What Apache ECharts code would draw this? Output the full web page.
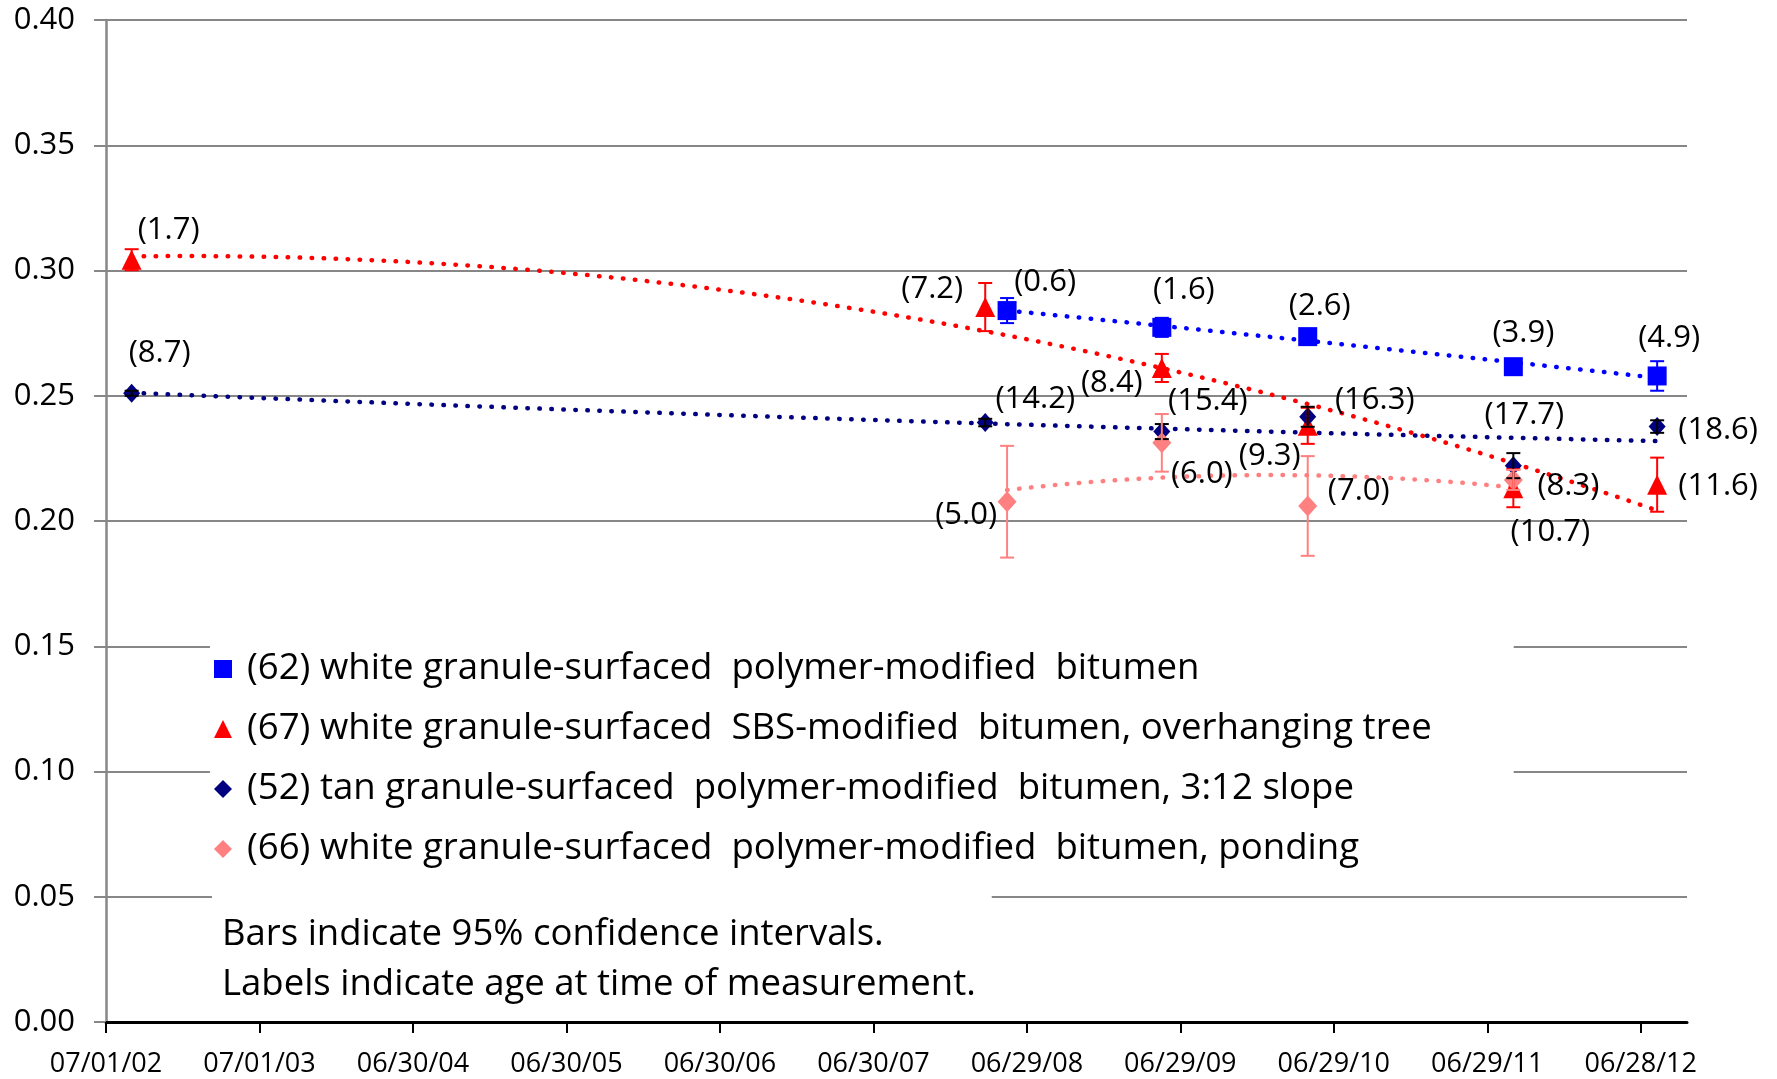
<!DOCTYPE html>
<html>
<head>
<meta charset="utf-8">
<script src="https://cdn.jsdelivr.net/npm/echarts@6/dist/echarts.min.js"></script>
<style>
html, body { margin: 0; padding: 0; background: #fff; }
#main { width: 1777px; height: 1079px; }
</style>
</head>
<body>
<div id="main"></div>
<script>
// axis ticks (dates) and their labels
var tickDates = ['2002-07-01', '2003-07-01', '2004-06-30', '2005-06-30', '2006-06-30', '2007-06-30',
                 '2008-06-29', '2009-06-29', '2010-06-29', '2011-06-29', '2012-06-28'];
var tickLabels = ['07/01/02', '07/01/03', '06/30/04', '06/30/05', '06/30/06', '06/30/07',
                  '06/29/08', '06/29/09', '06/29/10', '06/29/11', '06/28/12'];
var axisEndDate = '2012-10-16';

var legendNames = [
    '(62) white granule-surfaced  polymer-modified  bitumen',
    '(67) white granule-surfaced  SBS-modified  bitumen, overhanging tree',
    '(52) tan granule-surfaced  polymer-modified  bitumen, 3:12 slope',
    '(66) white granule-surfaced  polymer-modified  bitumen, ponding'
];

// (62) blue squares
var blueDates = ['2008-05-13', '2009-05-16', '2010-04-28', '2011-08-30', '2012-08-06'];
var blueValues = [0.2840, 0.2773, 0.2736, 0.2616, 0.2579];
var blueErr = [0.0050, 0.0038, 0.0012, 0.0015, 0.0059];
var blueAges = ['0.6', '1.6', '2.6', '3.9', '4.9'];

// (67) red triangles
var redDates = ['2002-08-31', '2008-03-22', '2009-05-16', '2010-04-28', '2011-08-30', '2012-08-06'];
var redValues = [0.3043, 0.2854, 0.2611, 0.2380, 0.2131, 0.2145];
var redErr = [0.0042, 0.0096, 0.0056, 0.0072, 0.0076, 0.0108];
var redAges = ['1.7', '7.2', '8.4', '9.3', '10.7', '11.6'];

// (52) navy diamonds
var navyDates = ['2002-08-31', '2008-03-22', '2009-05-16', '2010-04-28', '2011-08-30', '2012-08-06'];
var navyValues = [0.2510, 0.2393, 0.2357, 0.2416, 0.2221, 0.2377];
var navyErr = [0.0010, 0.0015, 0.0030, 0.0040, 0.0050, 0.0025];
var navyAges = ['8.7', '14.2', '15.4', '16.3', '17.7', '18.6'];

// (66) pink diamonds
var pinkDates = ['2008-05-13', '2009-05-16', '2010-04-28', '2011-08-30'];
var pinkValues = [0.2077, 0.2312, 0.2060, 0.2164];
var pinkErr = [0.0223, 0.0115, 0.0199, 0.0040];
var pinkAges = ['5.0', '6.0', '7.0', '8.3'];

// label placement relative to each marker (px)
var blueLabelOffset = [[38, -28], [22, -37], [12, -30], [10, -34], [12, -38]];
var redLabelOffset = [[37, -30], [-53, -18], [-50, 15], [-38, 30], [37, 44], [61, 1]];
var navyLabelOffset = [[28, -40], [50, -23], [46, -30], [67, -17], [11, -50], [61, 4]];
var pinkLabelOffset = [[-41, 13], [40, 31], [51, -15], [55, 6]];

var FONT = 'Open Sans';

function dayNum(s) {
    var p = s.split('-');
    return (Date.UTC(+p[0], +p[1] - 1, +p[2]) - Date.UTC(2002, 6, 1)) / 86400000;
}

// least squares polynomial (order 2) trendline, like the spreadsheet one
function polyFit(xs, ys) {
    var n = 3, A = [], b = [];
    for (var i = 0; i < n; i++) { A.push([0, 0, 0]); b.push(0); }
    xs.forEach(function (x, k) {
        var t = x / 1000;
        var pw = [1, t, t * t];
        for (var i = 0; i < n; i++) {
            b[i] += pw[i] * ys[k];
            for (var j = 0; j < n; j++) A[i][j] += pw[i] * pw[j];
        }
    });
    for (var c = 0; c < n; c++) {
        for (var r = c + 1; r < n; r++) {
            var f = A[r][c] / A[c][c];
            for (var j = c; j < n; j++) A[r][j] -= f * A[c][j];
            b[r] -= f * b[c];
        }
    }
    var coef = [0, 0, 0];
    for (var r = n - 1; r >= 0; r--) {
        var s = b[r];
        for (var j = r + 1; j < n; j++) s -= A[r][j] * coef[j];
        coef[r] = s / A[r][r];
    }
    return function (x) { var t = x / 1000; return coef[0] + coef[1] * t + coef[2] * t * t; };
}

function trendSeries(xs, ys, color) {
    var f = polyFit(xs, ys);
    var x0 = xs[0], x1 = xs[xs.length - 1], pts = [];
    for (var i = 0; i <= 120; i++) {
        var x = x0 + (x1 - x0) * i / 120;
        pts.push([x, f(x)]);
    }
    return {
        type: 'line', data: pts, showSymbol: false, silent: true, z: 2,
        lineStyle: { color: color, width: 4.5, type: [0.5, 11.5], cap: 'round' }
    };
}

function errSeries(xs, ys, errs, color) {
    return {
        type: 'custom', silent: true, z: 4,
        data: xs.map(function (x, i) { return [x, ys[i] - errs[i], ys[i] + errs[i]]; }),
        encode: { x: 0, y: [1, 2] },
        renderItem: function (params, api) {
            var lo = api.coord([api.value(0), api.value(1)]);
            var hi = api.coord([api.value(0), api.value(2)]);
            var hw = 7, st = { stroke: color, lineWidth: 2 };
            return {
                type: 'group', children: [
                    { type: 'line', shape: { x1: lo[0], y1: lo[1], x2: hi[0], y2: hi[1] }, style: st },
                    { type: 'line', shape: { x1: lo[0] - hw, y1: lo[1], x2: lo[0] + hw, y2: lo[1] }, style: st },
                    { type: 'line', shape: { x1: hi[0] - hw, y1: hi[1], x2: hi[0] + hw, y2: hi[1] }, style: st }
                ]
            };
        }
    };
}

function pointSeries(name, xs, ys, ages, offsets, color, symbol, size) {
    return {
        name: name, type: 'scatter', symbol: symbol, symbolSize: size, z: 3,
        itemStyle: { color: color, opacity: 1 },
        data: xs.map(function (x, i) {
            return { value: [x, ys[i]], label: { offset: offsets[i] } };
        }),
        label: {
            show: true, position: 'inside', color: '#000',
            fontFamily: FONT, fontSize: 31,
            formatter: function (p) { return '(' + ages[p.dataIndex] + ')'; }
        }
    };
}

var blueX = blueDates.map(dayNum), redX = redDates.map(dayNum);
var navyX = navyDates.map(dayNum), pinkX = pinkDates.map(dayNum);
var tickX = tickDates.map(dayNum);

var myChart = echarts.init(document.getElementById('main'));
var option = {
    animation: false,
    backgroundColor: '#fff',
    grid: { left: 106, right: 90, top: 20, bottom: 57 },
    title: {
        text: 'Bars indicate 95% confidence intervals.\nLabels indicate age at time of measurement.',
        left: 212, top: 884,
        backgroundColor: '#fff',
        padding: [26, 16, 2, 10],
        textStyle: { fontFamily: FONT, fontSize: 36.5, fontWeight: 'normal', color: '#000', lineHeight: 50 }
    },
    legend: {
        orient: 'vertical', left: 210, top: 639,
        selectedMode: false,
        backgroundColor: '#fff',
        padding: [10, 82, 10, 4],
        itemWidth: 18, itemHeight: 18, itemGap: 20,
        data: [
            { name: legendNames[0], icon: 'rect' },
            { name: legendNames[1], icon: 'triangle' },
            { name: legendNames[2], icon: 'diamond' },
            { name: legendNames[3], icon: 'diamond' }
        ],
        textStyle: { fontFamily: FONT, fontSize: 36.6, color: '#000', lineHeight: 40, padding: [0, 0, 0, 10] }
    },
    xAxis: {
        type: 'value', min: 0, max: dayNum(axisEndDate),
        splitLine: { show: false },
        axisLine: { onZero: false, lineStyle: { color: '#000', width: 3 } },
        axisTick: { customValues: tickX, length: 11, lineStyle: { color: '#000', width: 2 } },
        axisLabel: {
            customValues: tickX, margin: 29,
            fontFamily: FONT, fontSize: 27, color: '#000',
            formatter: function (v) { return tickLabels[tickX.indexOf(v)]; }
        }
    },
    yAxis: {
        type: 'value', min: 0, max: 0.4, interval: 0.05,
        axisLine: { show: true, lineStyle: { color: '#878787', width: 2.5 } },
        axisTick: { show: true, length: 12, lineStyle: { color: '#878787', width: 2 } },
        splitLine: { lineStyle: { color: '#878787', width: 2 } },
        axisLabel: {
            margin: 31, fontFamily: FONT, fontSize: 31, color: '#000',
            formatter: function (v) { return v.toFixed(2); }
        }
    },
    series: [
        trendSeries(blueX, blueValues, '#0000FF'),
        trendSeries(redX, redValues, '#FF0000'),
        trendSeries(navyX, navyValues, '#000080'),
        trendSeries(pinkX, pinkValues, '#FF8080'),
        pointSeries(legendNames[0], blueX, blueValues, blueAges, blueLabelOffset, '#0000FF', 'rect', 19),
        errSeries(blueX, blueValues, blueErr, '#0000FF'),
        pointSeries(legendNames[1], redX, redValues, redAges, redLabelOffset, '#FF0000', 'triangle', 20),
        errSeries(redX, redValues, redErr, '#FF0000'),
        pointSeries(legendNames[2], navyX, navyValues, navyAges, navyLabelOffset, '#000080', 'diamond', [17, 19]),
        errSeries(navyX, navyValues, navyErr, '#000000'),
        pointSeries(legendNames[3], pinkX, pinkValues, pinkAges, pinkLabelOffset, '#FF8080', 'diamond', [19, 21]),
        errSeries(pinkX, pinkValues, pinkErr, '#FF8080')
    ]
};
myChart.setOption(option);
</script>
</body>
</html>
